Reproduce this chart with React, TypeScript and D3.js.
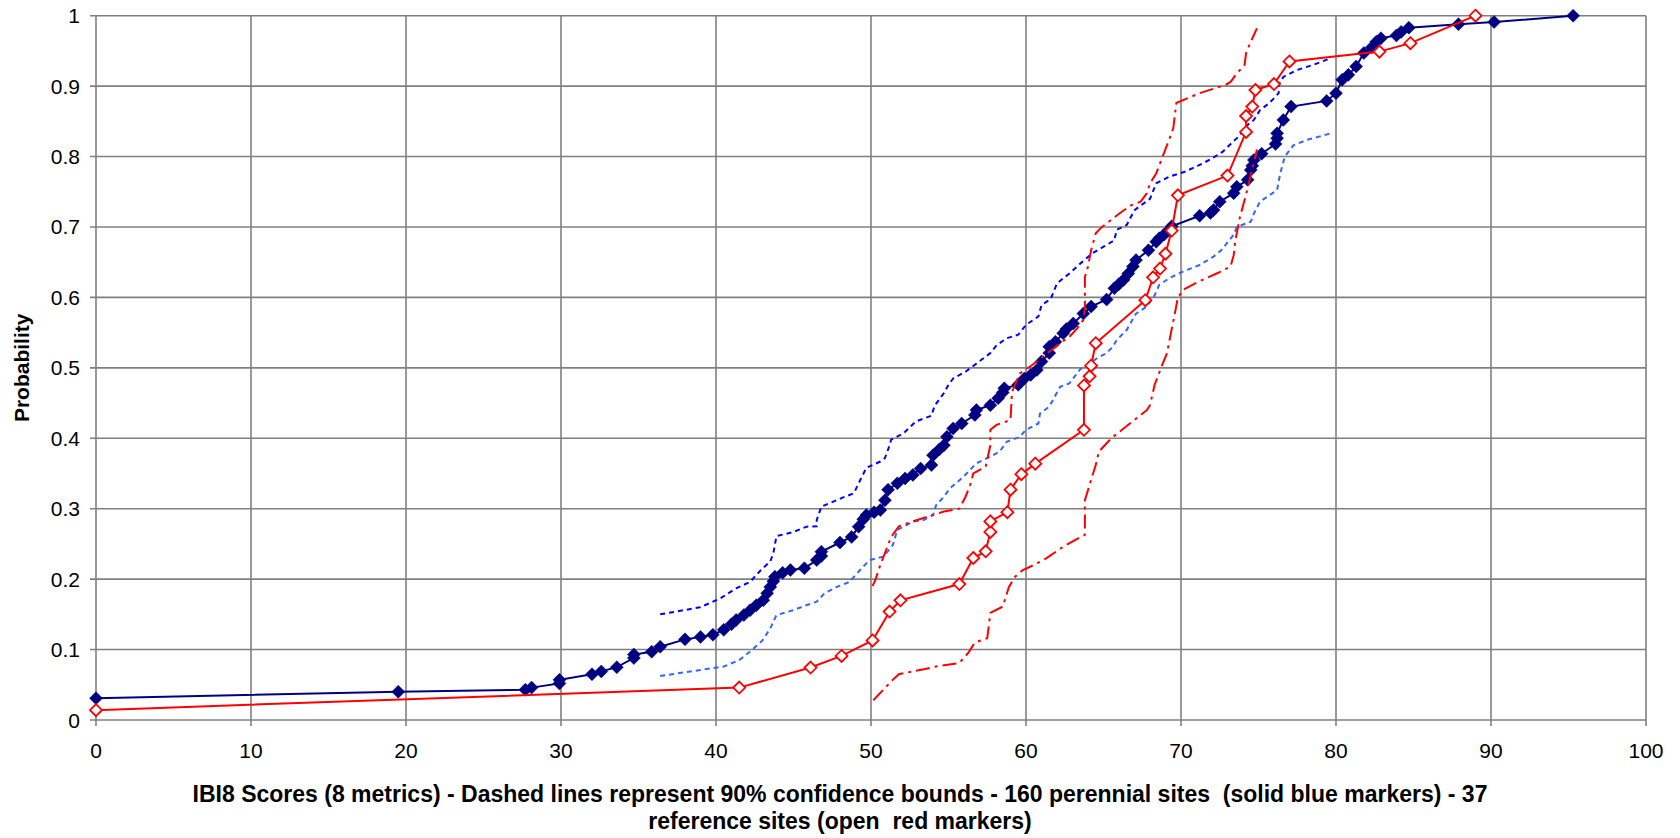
import React from 'react';
import * as d3 from 'd3';

// ---------- data ----------
const xTicks = [0, 10, 20, 30, 40, 50, 60, 70, 80, 90, 100];
const yTicks = [0, 0.1, 0.2, 0.3, 0.4, 0.5, 0.6, 0.7, 0.8, 0.9, 1];
const yTickLabels = ['0', '0.1', '0.2', '0.3', '0.4', '0.5', '0.6', '0.7', '0.8', '0.9', '1'];

// 160 perennial sites (solid blue markers)
const perennialX = [0, 19.5, 27.7, 28.1, 29.9, 29.9, 32.0, 32.6, 33.6, 34.7, 34.7, 35.85, 36.4, 38.0, 39.0, 39.8, 40.5, 41.0,
  41.3, 41.8, 42.2, 42.6, 43.05, 43.3, 43.5, 43.7, 43.8, 44.3, 44.8, 45.7, 46.5, 46.8, 46.8, 48.0, 48.75, 49.2, 49.5, 49.7,
  50.2, 50.6, 50.9, 51.1, 51.7, 52.2, 52.7, 53.2, 53.9, 54.0, 54.4, 54.7, 54.9, 55.3, 55.85, 56.7, 56.8, 57.7, 58.2, 58.5,
  58.6, 59.5, 59.9, 60.3, 60.7, 61.0, 61.5, 61.5, 61.9, 62.4, 62.6, 63.05, 63.7, 64.2, 65.2, 65.7, 66.0, 66.3, 66.6, 66.9,
  67.1, 67.9, 68.4, 68.6, 68.9, 69.2, 69.4, 71.2, 71.9, 72.1, 72.5, 73.4, 73.6, 74.3, 74.5, 74.6, 74.7, 75.2, 76.1, 76.2,
  76.2, 76.6, 77.1, 79.4, 80.0, 80.4, 80.8, 81.3, 81.8, 82.3, 82.6, 82.9, 83.9, 84.2, 84.7, 87.9, 90.2, 95.3];
const perennialP = [0.031, 0.040, 0.043, 0.046, 0.052, 0.057, 0.065, 0.069, 0.075, 0.088, 0.093, 0.097, 0.104, 0.1145, 0.118, 0.121, 0.128, 0.136,
  0.142, 0.149, 0.156, 0.163, 0.170, 0.180, 0.189, 0.197, 0.2035, 0.209, 0.213, 0.2154, 0.227, 0.233, 0.239, 0.252, 0.260, 0.2745, 0.285, 0.291,
  0.295, 0.298, 0.312, 0.327, 0.336, 0.343, 0.348, 0.357, 0.362, 0.376, 0.384, 0.390, 0.402, 0.414, 0.421, 0.433, 0.440, 0.447, 0.457, 0.465,
  0.471, 0.476, 0.485, 0.490, 0.497, 0.509, 0.521, 0.530, 0.537, 0.549, 0.555, 0.563, 0.577, 0.587, 0.597, 0.613, 0.619, 0.625, 0.634, 0.644,
  0.653, 0.667, 0.679, 0.684, 0.689, 0.695, 0.701, 0.716, 0.720, 0.724, 0.736, 0.748, 0.757, 0.767, 0.781, 0.787, 0.795, 0.804, 0.818, 0.826,
  0.833, 0.852, 0.871, 0.879, 0.890, 0.909, 0.916, 0.928, 0.947, 0.955, 0.963, 0.968, 0.972, 0.977, 0.983, 0.988, 0.991, 1.0];

// 37 reference sites (open red markers)
const referenceX = [0, 41.5, 46.1, 48.1, 50.1, 51.2, 51.9, 55.7, 56.6, 57.4, 57.7, 57.7, 58.8, 59.0, 59.7, 60.6,
  63.74, 63.74, 64.1, 64.2, 64.5, 67.7, 68.2, 68.65, 69.0, 69.4, 69.8, 73.0, 74.2, 74.2, 74.6, 74.8, 76.0, 77.0, 82.8, 84.8, 89.0];
const referenceP = [0.014, 0.046, 0.0745, 0.091, 0.113, 0.154, 0.170, 0.193, 0.230, 0.2395, 0.267, 0.282, 0.295, 0.327, 0.349, 0.364,
  0.412, 0.475, 0.488, 0.503, 0.535, 0.596, 0.6285, 0.641, 0.662, 0.695, 0.745, 0.773, 0.835, 0.8576, 0.871, 0.8945, 0.903, 0.935, 0.949, 0.961, 1.0];

// 90% confidence bounds, perennial sites
const perUpperX = [36.4, 38.97, 39.6, 40.3, 41.3, 42.2, 42.4, 42.9, 43.5, 43.7, 43.9, 45.0, 45.85, 46.5, 46.5, 46.8, 48.2, 48.9, 49.2,
  49.7, 50.6, 50.9, 51.2, 51.3, 52.1, 52.9, 53.9, 54.1, 54.7, 55.0, 55.3, 56.1, 56.8, 57.7, 58.1, 58.75, 59.5, 60.0, 60.8, 61.0, 61.6,
  62.0, 62.8, 63.5, 64.3, 65.0, 65.7, 65.85, 66.5, 67.0, 68.0, 68.4, 69.3, 70.2, 71.1, 71.9, 72.7, 73.3, 73.7, 74.3, 74.7, 75.1, 75.7,
  76.3, 76.3, 76.6, 77.5, 78.5, 79.7];
const perUpperP = [0.150, 0.160, 0.166, 0.173, 0.187, 0.196, 0.201, 0.213, 0.225, 0.237, 0.261, 0.267, 0.2745, 0.275, 0.284, 0.303, 0.316, 0.322, 0.336,
  0.358, 0.367, 0.372, 0.390, 0.398, 0.407, 0.424, 0.432, 0.446, 0.464, 0.476, 0.485, 0.4945, 0.506, 0.521, 0.532, 0.542, 0.547, 0.561, 0.573, 0.589, 0.598,
  0.620, 0.634, 0.648, 0.663, 0.672, 0.681, 0.696, 0.703, 0.724, 0.740, 0.762, 0.772, 0.778, 0.787, 0.796, 0.807, 0.820, 0.828, 0.845, 0.852, 0.866, 0.876,
  0.890, 0.902, 0.913, 0.923, 0.930, 0.940];
const perLowerX = [36.4, 39.0, 40.5, 41.5, 42.3, 43.0, 43.5, 43.9, 45.0, 45.7, 46.5, 47.0, 47.8, 48.6, 49.3, 49.9, 50.8, 51.4, 51.7,
  52.7, 53.4, 54.0, 54.2, 54.7, 55.1, 55.95, 56.8, 57.7, 58.3, 58.75, 59.6, 60.0, 60.8, 60.9, 61.5, 62.2, 62.8, 63.5, 64.1, 64.6, 65.2,
  65.6, 65.85, 66.5, 67.1, 67.8, 68.3, 68.6, 69.3, 70.15, 71.2, 72.1, 72.6, 73.4, 73.6, 74.5, 74.7, 75.1, 76.2, 76.4, 76.7, 77.25, 78.1,
  78.85, 79.7];
const perLowerP = [0.0625, 0.071, 0.076, 0.085, 0.099, 0.113, 0.130, 0.149, 0.156, 0.162, 0.168, 0.180, 0.189, 0.196, 0.213, 0.227, 0.232, 0.248, 0.270,
  0.2815, 0.284, 0.291, 0.305, 0.317, 0.329, 0.345, 0.3645, 0.374, 0.381, 0.395, 0.402, 0.412, 0.421, 0.435, 0.445, 0.473, 0.478, 0.498, 0.506, 0.514, 0.521,
  0.530, 0.5395, 0.554, 0.577, 0.587, 0.603, 0.618, 0.628, 0.637, 0.646, 0.658, 0.667, 0.689, 0.700, 0.7075, 0.719, 0.736, 0.7525, 0.776, 0.800, 0.816, 0.8235,
  0.828, 0.833];

// 90% confidence bounds, reference sites
const refUpperX = [50.1, 50.3, 50.6, 51.3, 51.8, 52.7, 54.7, 55.7, 56.1, 56.4, 56.6, 57.4, 57.7, 57.7, 58.1, 59.0, 59.1, 59.6, 60.4,
  62.2, 62.8, 63.3, 63.7, 63.8, 63.8, 64.0, 64.2, 64.5, 64.8, 65.6, 66.2, 66.8, 67.4, 67.8, 68.0, 68.4, 68.9, 69.2, 69.5, 69.7, 71.2,
  72.9, 73.2, 73.6, 74.1, 74.2, 74.5, 74.9];
const refUpperP = [0.190, 0.200, 0.220, 0.260, 0.275, 0.282, 0.296, 0.300, 0.317, 0.334, 0.350, 0.360, 0.390, 0.412, 0.419, 0.426, 0.466, 0.492, 0.504,
  0.535, 0.544, 0.556, 0.568, 0.587, 0.629, 0.644, 0.667, 0.691, 0.698, 0.712, 0.722, 0.731, 0.736, 0.748, 0.762, 0.776, 0.805, 0.822, 0.840, 0.876, 0.890,
  0.902, 0.906, 0.918, 0.930, 0.947, 0.963, 0.982];
const refLowerX = [50.15, 51.4, 51.8, 53.4, 54.2, 55.7, 56.3, 56.7, 57.5, 57.7, 58.5, 58.9, 59.3, 59.8, 60.5, 61.3, 62.4, 63.8, 63.8,
  64.2, 64.5, 64.7, 65.5, 66.7, 67.8, 68.0, 68.3, 68.75, 69.1, 69.3, 69.6, 69.8, 70.15, 71.0, 72.4, 73.2, 73.4, 73.5, 73.8, 74.1, 74.3, 74.9];
const refLowerP = [0.028, 0.057, 0.065, 0.072, 0.076, 0.081, 0.096, 0.110, 0.116, 0.152, 0.161, 0.189, 0.2035, 0.213, 0.220, 0.2295, 0.246, 0.263, 0.312,
  0.341, 0.362, 0.381, 0.400, 0.421, 0.440, 0.447, 0.476, 0.502, 0.521, 0.544, 0.577, 0.600, 0.611, 0.621, 0.635, 0.644, 0.660, 0.680, 0.714, 0.738, 0.755, 0.810];

const xTitle1 = 'IBI8 Scores (8 metrics) - Dashed lines represent 90% confidence bounds - 160 perennial sites  (solid blue markers) - 37';
const xTitle2 = 'reference sites (open  red markers)';
const yTitle = 'Probability';

// ---------- layout ----------
const W = 1680;
const H = 838;
const left = 96;
const right = 1646;
const top = 15.7;
const bottom = 720;
const FONT = '"Liberation Sans", Arial, sans-serif';

const x = d3.scaleLinear().domain([0, 100]).range([left, right]);
const y = d3.scaleLinear().domain([0, 1]).range([bottom, top]);

const line = d3.line<[number, number]>().x((d) => x(d[0])).y((d) => y(d[1]));

const diamond = (r: number) => `M0,${-r}L${r},0L0,${r}L${-r},0Z`;

export default function App() {
  const per = d3.zip(perennialX, perennialP) as [number, number][];
  const ref = d3.zip(referenceX, referenceP) as [number, number][];
  const pU = d3.zip(perUpperX, perUpperP) as [number, number][];
  const pL = d3.zip(perLowerX, perLowerP) as [number, number][];
  const rU = d3.zip(refUpperX, refUpperP) as [number, number][];
  const rL = d3.zip(refLowerX, refLowerP) as [number, number][];

  return (
    <svg
      width={W}
      height={H}
      style={{ position: 'absolute', left: 0, top: 0, background: '#fff' }}
      fontFamily={FONT}
    >
      <rect x={0} y={0} width={W} height={H} fill="#fff" />
      {/* gridlines */}
      {xTicks.map((t) => (
        <line key={'gx' + t} x1={x(t)} x2={x(t)} y1={y(1)} y2={y(0) + 6} stroke="#808080" strokeWidth={1.6} />
      ))}
      {yTicks.map((t) => (
        <line key={'gy' + t} x1={x(0) - 6} x2={x(100)} y1={y(t)} y2={y(t)} stroke="#808080" strokeWidth={1.6} />
      ))}
      {/* tick labels */}
      {yTicks.map((t, i) => (
        <text key={'ly' + t} x={80} y={y(t) + 7.5} textAnchor="end" fontSize={21} fill="#000">
          {yTickLabels[i]}
        </text>
      ))}
      {xTicks.map((t) => (
        <text key={'lx' + t} x={x(t)} y={758} textAnchor="middle" fontSize={21} fill="#000">
          {t}
        </text>
      ))}
      {/* titles */}
      <text x={840} y={802} textAnchor="middle" fontSize={23} fontWeight="bold" style={{ whiteSpace: 'pre' }}>
        {xTitle1}
      </text>
      <text x={840} y={829} textAnchor="middle" fontSize={23} fontWeight="bold" style={{ whiteSpace: 'pre' }}>
        {xTitle2}
      </text>
      <text
        transform={`translate(29,${(top + bottom) / 2}) rotate(-90)`}
        textAnchor="middle"
        fontSize={21}
        fontWeight="bold"
      >
        {yTitle}
      </text>

      {/* perennial confidence bounds */}
      <path d={line(pU) || ''} fill="none" stroke="#0000FF" strokeWidth={2} strokeDasharray="5,4" />
      <path d={line(pL) || ''} fill="none" stroke="#3366FF" strokeWidth={2} strokeDasharray="5,4" />

      {/* perennial series */}
      <path d={line(per) || ''} fill="none" stroke="#000080" strokeWidth={2} />
      {per.map((d, i) => (
        <path key={'pm' + i} d={diamond(6.5)} transform={`translate(${x(d[0])},${y(d[1])})`} fill="#000080" stroke="#000080" strokeWidth={0.5} />
      ))}

      {/* reference confidence bounds */}
      <path d={line(rU) || ''} fill="none" stroke="#FF0000" strokeWidth={2} strokeDasharray="14,5,3,5" />
      <path d={line(rL) || ''} fill="none" stroke="#FF0000" strokeWidth={2} strokeDasharray="14,5,3,5" />

      {/* reference series */}
      <path d={line(ref) || ''} fill="none" stroke="#FF0000" strokeWidth={2} />
      {ref.map((d, i) => (
        <path key={'rm' + i} d={diamond(6)} transform={`translate(${x(d[0])},${y(d[1])})`} fill="#fff" stroke="#FF0000" strokeWidth={1.8} />
      ))}
    </svg>
  );
}
